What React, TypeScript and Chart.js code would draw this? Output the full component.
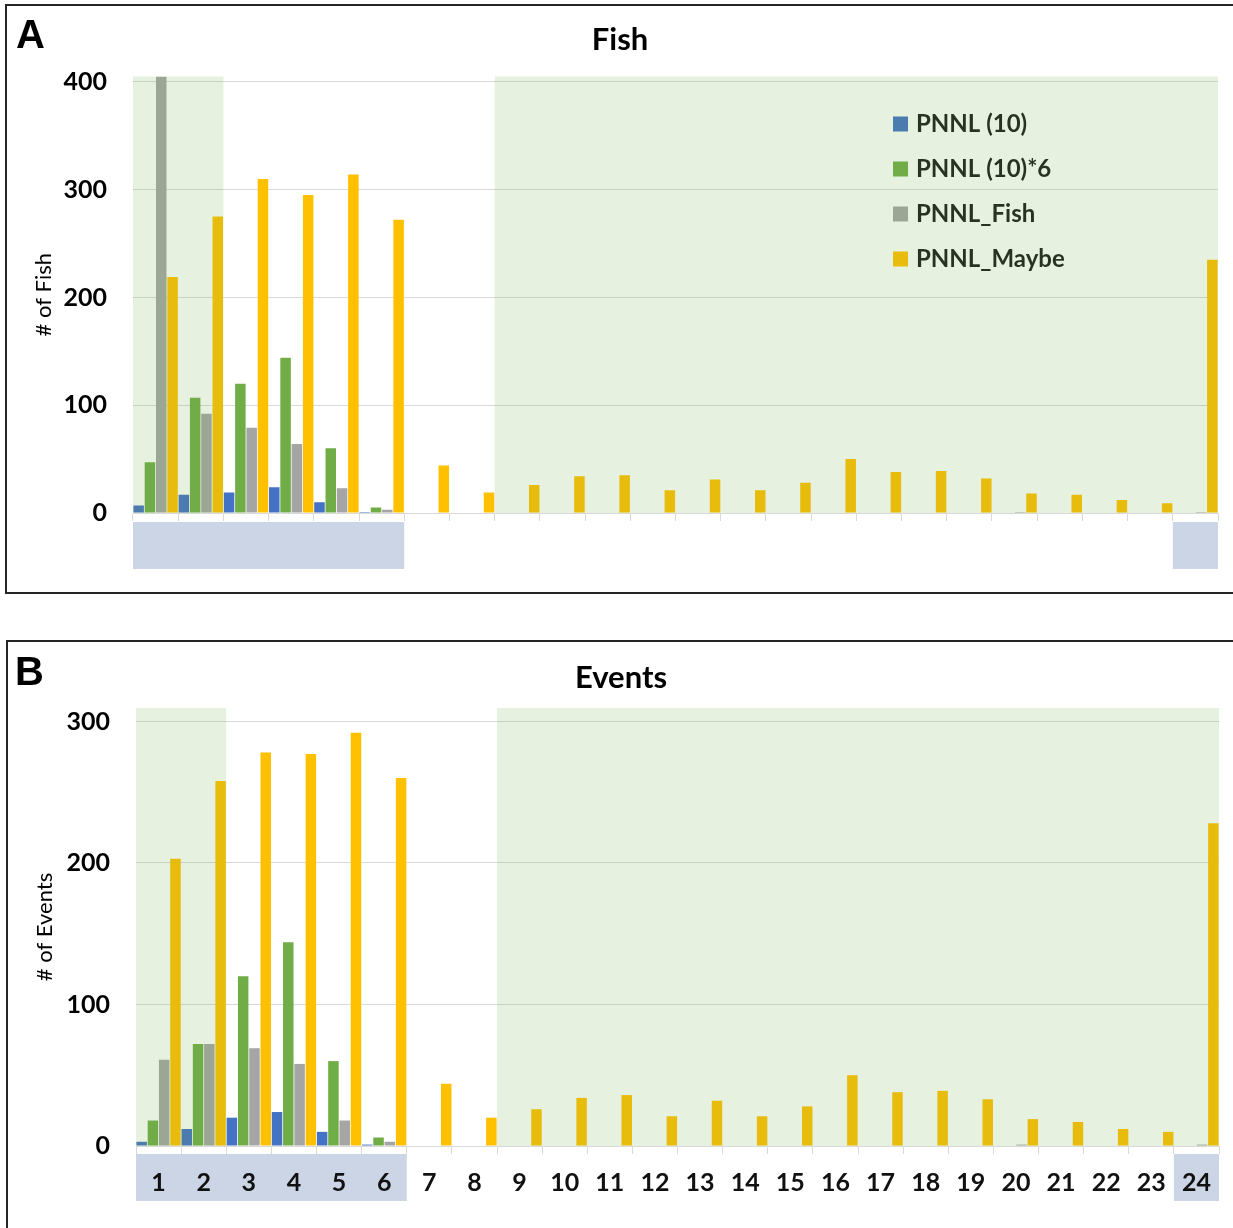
import React, { useEffect, useRef } from 'react';
import { Chart, registerables } from 'chart.js';

Chart.register(...registerables);

// ---------- data ----------
const categories = ['1', '2', '3', '4', '5', '6', '7', '8', '9', '10', '11', '12', '13', '14', '15', '16', '17', '18', '19', '20', '21', '22', '23', '24'];
const seriesNames = ['PNNL (10)', 'PNNL (10)*6', 'PNNL_Fish', 'PNNL_Maybe'];

const fishPnnl10 = [7, 17, 19, 24, 10, 1, 0, 0, 0, 0, 0, 0, 0, 0, 0, 0, 0, 0, 0, 0, 0, 0, 0, 0];
const fishPnnl10x6 = [47, 107, 120, 144, 60, 5, 0, 0, 0, 0, 0, 0, 0, 0, 0, 0, 0, 0, 0, 0, 0, 0, 0, 0];
const fishPnnlFish = [405, 92, 79, 64, 23, 3, 0, 0, 0, 0, 0, 0, 0, 0, 0, 0, 0, 0, 0, 1, 0, 0, 0, 1];
const fishPnnlMaybe = [219, 275, 310, 295, 314, 272, 44, 19, 26, 34, 35, 21, 31, 21, 28, 50, 38, 39, 32, 18, 17, 12, 9, 235];
const fishTicks = [0, 100, 200, 300, 400];

const evPnnl10 = [3, 12, 20, 24, 10, 1, 0, 0, 0, 0, 0, 0, 0, 0, 0, 0, 0, 0, 0, 0, 0, 0, 0, 0];
const evPnnl10x6 = [18, 72, 120, 144, 60, 6, 0, 0, 0, 0, 0, 0, 0, 0, 0, 0, 0, 0, 0, 0, 0, 0, 0, 0];
const evPnnlFish = [61, 72, 69, 58, 18, 3, 0, 0, 0, 0, 0, 0, 0, 0, 0, 0, 0, 0, 0, 1, 0, 0, 0, 1];
const evPnnlMaybe = [203, 258, 278, 277, 292, 260, 44, 20, 26, 34, 36, 21, 32, 21, 28, 50, 38, 39, 33, 19, 17, 12, 10, 228];
const eventTicks = [0, 100, 200, 300];

// shaded category ranges (index ranges) and highlighted label boxes
const shadedRanges = [[0, 1], [8, 23]];
const boxedRanges = [[0, 5], [23, 23]];

const seriesColors = ['#4472c4', '#70ad47', '#a5a5a5', '#ffc000'];
const FONT = 'Lato';

type PanelCfg = {
  title: string;
  axisTitle: string;
  yMax: number;
  ticks: number[];
  values: number[][];
  showLabels: boolean;
  legend: boolean;
  yWidth: number;
  padLeft: number;
  padRight: number;
  titlePadTop: number;
  titlePadBottom: number;
  xHeight: number;
  boxTop: number;
  boxHeight: number;
};

function makeDeco(cfg: PanelCfg) {
  return {
    id: 'panelDeco',
    beforeDraw(chart: any) {
      const ctx = chart.ctx;
      const x = chart.scales.x;
      const area = chart.chartArea;
      const half = (x.getPixelForValue(1) - x.getPixelForValue(0)) / 2;
      ctx.save();
      ctx.fillStyle = '#ccd5e5';
      for (const [a, b] of boxedRanges) {
        const l = x.getPixelForValue(a) - half;
        const r = x.getPixelForValue(b) + half;
        ctx.fillRect(l, area.bottom + cfg.boxTop, r - l, cfg.boxHeight);
      }
      ctx.restore();
    },
    afterDatasetsDraw(chart: any) {
      const ctx = chart.ctx;
      const x = chart.scales.x;
      const y = chart.scales.y;
      const area = chart.chartArea;
      ctx.save();
      if (cfg.legend) {
        const lx = area.left + 760;
        const ly = area.top + 47.5;
        ctx.font = `bold 24px ${FONT}`;
        ctx.textBaseline = 'middle';
        ctx.textAlign = 'left';
        chart.data.datasets.forEach((ds: any, i: number) => {
          const cy = ly + i * 45;
          ctx.fillStyle = ds.backgroundColor;
          ctx.fillRect(lx, cy - 7.5, 15, 15);
          ctx.fillStyle = '#1a1a1a';
          ctx.fillText(ds.label, lx + 23, cy);
        });
      }
      const half = (x.getPixelForValue(1) - x.getPixelForValue(0)) / 2;
      const y0 = y.getPixelForValue(0);
      ctx.fillStyle = 'rgba(112,173,71,0.17)';
      for (const [a, b] of shadedRanges) {
        const l = x.getPixelForValue(a) - half;
        const r = x.getPixelForValue(b) + half;
        ctx.fillRect(l, area.top, r - l, y0 - area.top);
      }
      ctx.restore();
    },
  };
}

function Panel({ cfg, style }: { cfg: PanelCfg; style: React.CSSProperties }) {
  const ref = useRef<HTMLCanvasElement | null>(null);
  useEffect(() => {
    if (!ref.current) return;
    const chart = new Chart(ref.current, {
      type: 'bar',
      data: {
        labels: categories,
        datasets: cfg.values.map((vals, i) => ({
          label: seriesNames[i],
          data: vals,
          backgroundColor: seriesColors[i],
          borderWidth: 0,
          categoryPercentage: 1,
          barPercentage: 0.93,
        })),
      },
      options: {
        animation: false,
        responsive: false,
        maintainAspectRatio: false,
        devicePixelRatio: 1,
        layout: { padding: { left: cfg.padLeft, right: cfg.padRight, top: 0, bottom: 0 } },
        plugins: {
          legend: { display: false },
          tooltip: { enabled: false },
          title: {
            display: true,
            text: cfg.title,
            color: '#000',
            font: { family: FONT, size: 31, weight: 'bold', lineHeight: 1.2 },
            padding: { top: cfg.titlePadTop, bottom: cfg.titlePadBottom },
          },
        },
        scales: {
          x: {
            grid: { display: true, drawOnChartArea: false, drawTicks: true, tickLength: 8, color: '#d9d9d9', offset: true },
            border: { display: true, color: '#d9d9d9' },
            ticks: {
              display: cfg.showLabels,
              color: '#111',
              font: { family: FONT, size: 25, weight: 'bold' },
              padding: 14,
              maxRotation: 0,
              autoSkip: false,
            },
            afterFit: (s: any) => { s.height = cfg.xHeight; },
          },
          y: {
            min: 0,
            max: cfg.yMax,
            afterBuildTicks: (s: any) => { s.ticks = cfg.ticks.map((v) => ({ value: v })); },
            grid: { color: '#d9d9d9', drawTicks: false },
            border: { display: false },
            ticks: { color: '#000', font: { family: FONT, size: 25, weight: 'bold' }, padding: 26 },
            title: {
              display: true,
              text: cfg.axisTitle,
              color: '#000',
              font: { family: FONT, size: 22 },
              padding: { top: 9, bottom: 0 },
            },
            afterFit: (s: any) => { s.width = cfg.yWidth; },
          },
        },
      },
      plugins: [makeDeco(cfg)],
    } as any);
    return () => chart.destroy();
  }, [cfg]);
  return <canvas ref={ref} width={style.width as number} height={style.height as number} style={{ position: 'absolute', left: 0, top: 0, ...style }} />;
}

const panelA: PanelCfg = {
  title: 'Fish',
  axisTitle: '# of Fish',
  yMax: 405,
  ticks: fishTicks,
  values: [fishPnnl10, fishPnnl10x6, fishPnnlFish, fishPnnlMaybe],
  showLabels: false,
  legend: true,
  yWidth: 111,
  padLeft: 15,
  padRight: 15,
  titlePadTop: 15.4,
  titlePadBottom: 17.9,
  xHeight: 79,
  boxTop: 9,
  boxHeight: 47,
};

const panelB: PanelCfg = {
  title: 'Events',
  axisTitle: '# of Events',
  yMax: 309.5,
  ticks: eventTicks,
  values: [evPnnl10, evPnnl10x6, evPnnlFish, evPnnlMaybe],
  showLabels: true,
  legend: false,
  yWidth: 113,
  padLeft: 15,
  padRight: 14,
  titlePadTop: 17.4,
  titlePadBottom: 11.4,
  xHeight: 82,
  boxTop: 8,
  boxHeight: 47,
};

export default function App() {
  return (
    <div style={{ position: 'absolute', left: 0, top: 0, width: 1233, height: 1228, overflow: 'hidden', background: '#fff' }}>
      <div style={{ position: 'absolute', left: 5, top: 4, width: 1240, height: 586, border: '2px solid #262626' }}>
        <Panel cfg={panelA} style={{ width: 1226, height: 586 }} />
      </div>
      <div style={{ position: 'absolute', left: 6, top: 640, width: 1240, height: 600, border: '2px solid #262626' }}>
        <Panel cfg={panelB} style={{ width: 1225, height: 586 }} />
      </div>
      <div style={{ position: 'absolute', left: 16, top: 14, font: 'bold 40px "Liberation Sans"', lineHeight: '40px', color: '#000' }}>A</div>
      <div style={{ position: 'absolute', left: 15, top: 651, font: 'bold 40px "Liberation Sans"', lineHeight: '40px', color: '#000' }}>B</div>
    </div>
  );
}
